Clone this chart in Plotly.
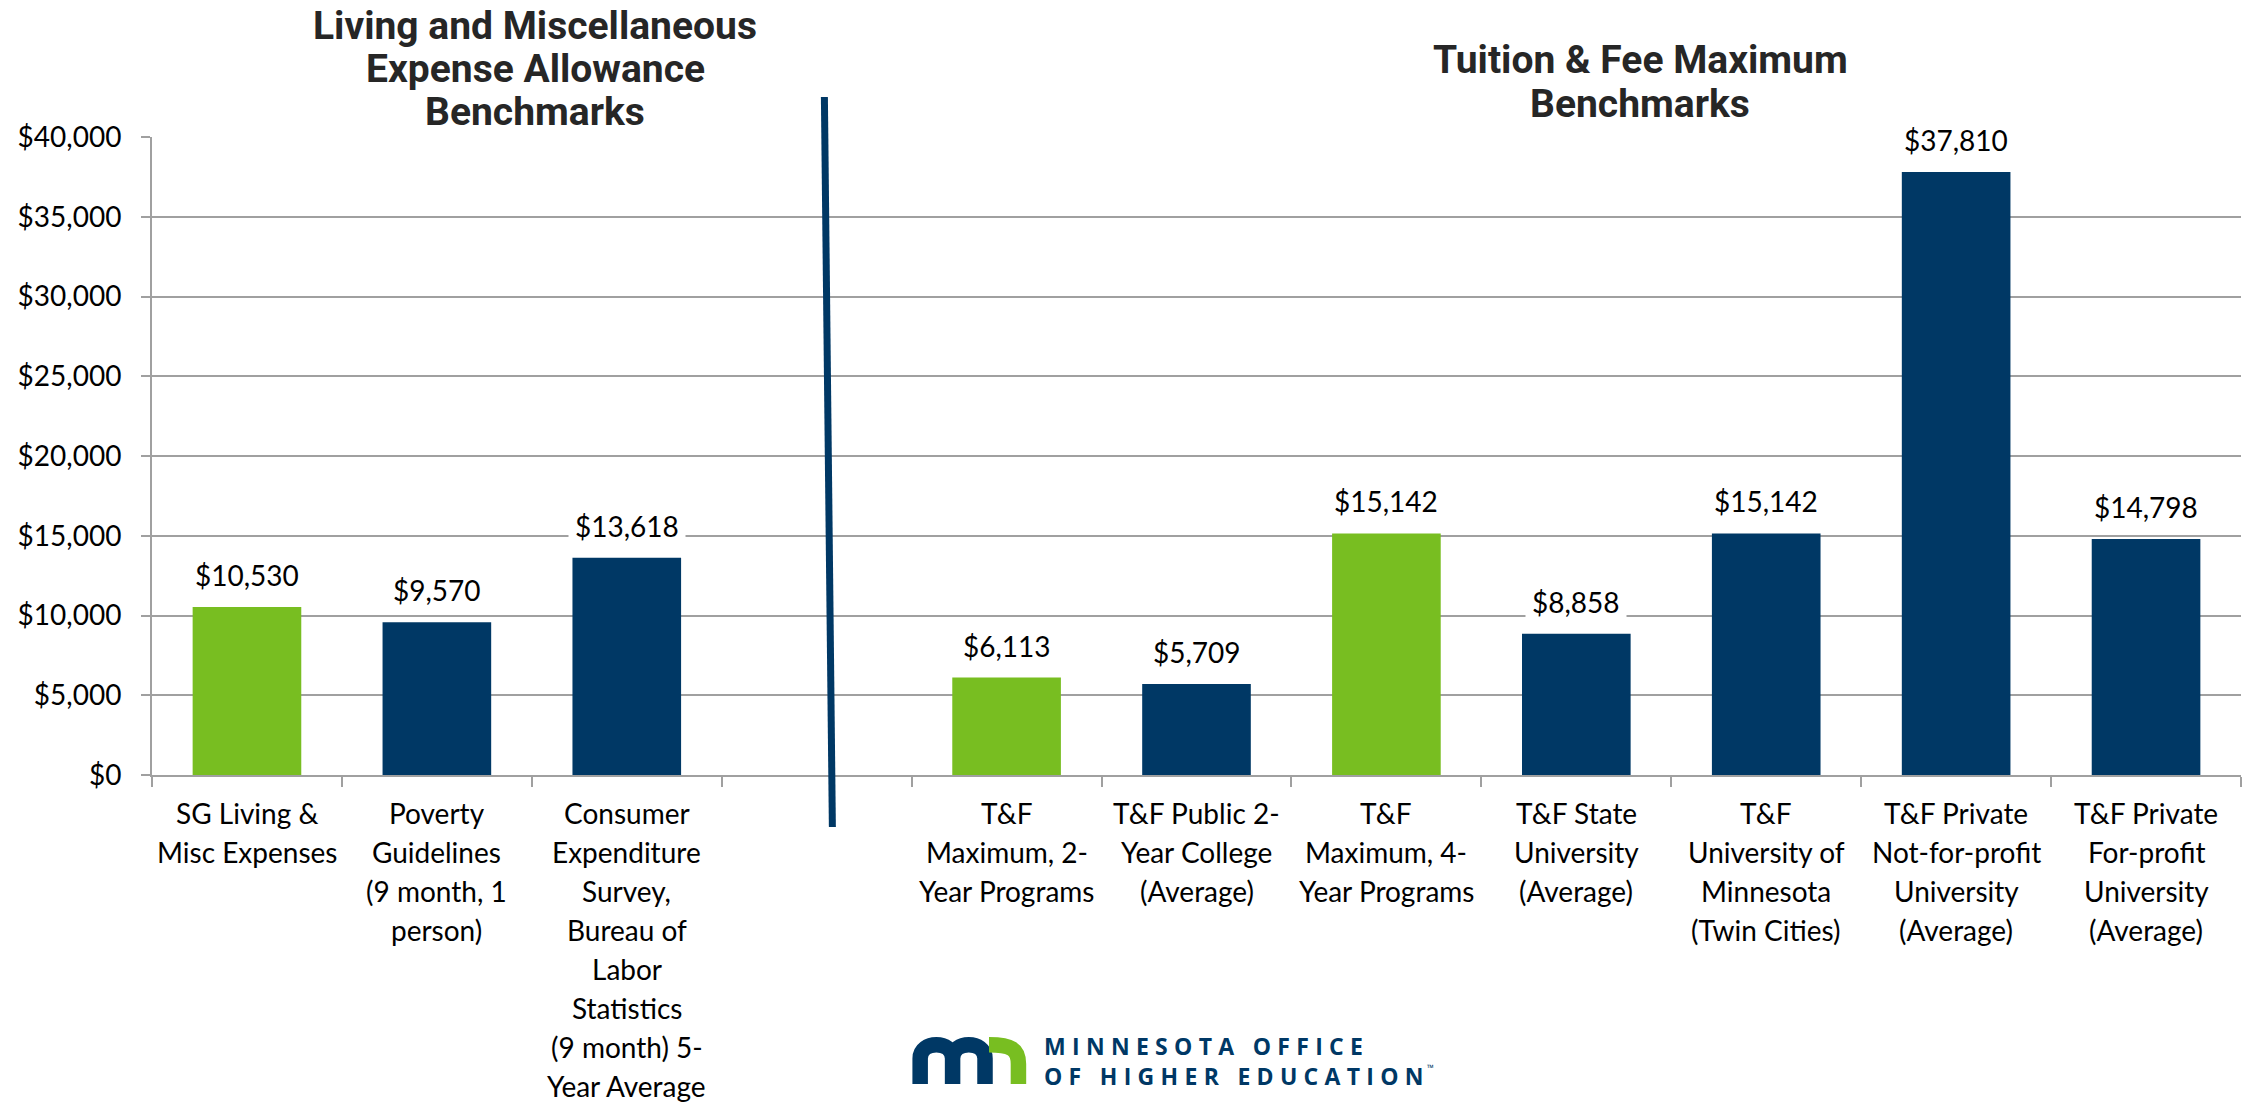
import plotly.graph_objects as go

# ---------------- data ----------------
categories = [
    "SG Living & Misc Expenses",
    "Poverty Guidelines (9 month, 1 person)",
    "Consumer Expenditure Survey, Bureau of Labor Statistics (9 month) 5-Year Average",
    " ",
    "T&F Maximum, 2-Year Programs",
    "T&F Public 2-Year College (Average)",
    "T&F Maximum, 4-Year Programs",
    "T&F State University (Average)",
    "T&F University of Minnesota (Twin Cities)",
    "T&F Private Not-for-profit University (Average)",
    "T&F Private For-profit University (Average)",
]
label_lines = [
    ["SG Living &", "Misc Expenses"],
    ["Poverty", "Guidelines", "(9 month, 1", "person)"],
    ["Consumer", "Expenditure", "Survey,", "Bureau of", "Labor", "Statistics", "(9 month) 5-", "Year Average"],
    [],
    ["T&F", "Maximum, 2-", "Year Programs"],
    ["T&F Public 2-", "Year College", "(Average)"],
    ["T&F", "Maximum, 4-", "Year Programs"],
    ["T&F State", "University", "(Average)"],
    ["T&F", "University of", "Minnesota", "(Twin Cities)"],
    ["T&F Private", "Not-for-profit", "University", "(Average)"],
    ["T&F Private", "For-profit", "University", "(Average)"],
]
values = [10530, 9570, 13618, None, 6113, 5709, 15142, 8858, 15142, 37810, 14798]
highlight = [True, False, False, False, True, False, True, False, False, False, False]
y_ticks = [0, 5000, 10000, 15000, 20000, 25000, 30000, 35000, 40000]
y_tick_labels = ["$0", "$5,000", "$10,000", "$15,000", "$20,000", "$25,000", "$30,000", "$35,000", "$40,000"]
left_title = ["Living and Miscellaneous", "Expense Allowance", "Benchmarks"]
right_title = ["Tuition & Fee Maximum", "Benchmarks"]
logo_lines = ["MINNESOTA OFFICE", "OF HIGHER EDUCATION"]

# ---------------- style ----------------
GREEN = "#78BE21"
NAVY = "#003865"
GRID = "#A0A0A0"
TXT = "Lato, 'Noto Sans', sans-serif"
TITLE_FONT = "Roboto, 'Liberation Sans', Arial, sans-serif"

# page body has an 8px default margin: figure is placed at (8, 8) of the window
OFF = 8
W, H = 2251 - OFF, 1104 - OFF
L, R, T = 147 - OFF, 10, 137 - OFF
B = H - (775 - OFF)
PW, PH = W - L - R, H - T - B


def px(x):
    """window x pixel -> paper fraction"""
    return (x - OFF - L) / PW


def py(y):
    """window y pixel -> paper fraction"""
    return (H - B - (y - OFF)) / PH


colors = [GREEN if h else NAVY for h in highlight]

fig = go.Figure()
fig.add_trace(go.Bar(
    x=categories, y=values, marker=dict(color=colors, line=dict(width=0)),
    hoverinfo="skip", showlegend=False,
))

annotations = []
# data labels
for c, v in zip(categories, values):
    if v is None:
        continue
    annotations.append(dict(
        x=c, y=v, xref="x", yref="y", text=f"${v:,}", showarrow=False,
        yanchor="bottom", yshift=8, bgcolor="white", borderpad=6,
        font=dict(family=TXT, size=28, color="#000000"),
    ))
# category labels (one annotation per wrapped line)
for c, lines in zip(categories, label_lines):
    for j, line in enumerate(lines):
        annotations.append(dict(
            x=c, xref="x", y=py(813 + j * 39), yref="paper", text=line,
            showarrow=False, yanchor="middle", xanchor="center",
            font=dict(family=TXT, size=28, color="#000000"),
        ))
# titles
for j, line in enumerate(left_title):
    annotations.append(dict(
        x=px(531), y=py(26 + j * 43), xref="paper", yref="paper", text=f"<b>{line}</b>",
        showarrow=False, xanchor="center", yanchor="middle",
        font=dict(family=TITLE_FONT, size=39, color="#262626"),
    ))
for j, line in enumerate(right_title):
    annotations.append(dict(
        x=px(1639), y=py(60 + j * 44), xref="paper", yref="paper", text=f"<b>{line}</b>",
        showarrow=False, xanchor="center", yanchor="middle",
        font=dict(family=TITLE_FONT, size=39, color="#262626"),
    ))
# logo text (two lines in one block)
logo_text = "<br>".join(f"<span style='letter-spacing:6.3px'>{ln}</span>" for ln in logo_lines)
annotations.append(dict(
    x=px(1039), y=py(1061), xref="paper", yref="paper",
    text=f"<b>{logo_text}</b>", align="left",
    showarrow=False, xanchor="left", yanchor="middle",
    font=dict(family="'Open Sans', sans-serif", size=23, color=NAVY),
))
annotations.append(dict(
    x=px(1423), y=py(1067), xref="paper", yref="paper", text="™",
    showarrow=False, xanchor="left", yanchor="middle",
    font=dict(family="'Open Sans', sans-serif", size=9, color=NAVY),
))


def path(points_cmds):
    out = []
    for cmd, pts in points_cmds:
        coords = " ".join(f"{px(x):.5f},{py(y):.5f}" for x, y in pts)
        out.append(f"{cmd}{coords}")
    return " ".join(out)


# logo "m" (navy) and arch (green)
top_c = 1044.75
yc = 1058.5
ry = yc - top_c
cy = yc - 4.0 / 3.0 * ry
legs = [917, 949.5, 982]
m_path = path([
    ("M", [(legs[0], 1084)]), ("L", [(legs[0], yc)]),
    ("C", [(legs[0], cy), (legs[1], cy), (legs[1], yc)]),
    ("L", [(legs[1], 1084)]),
    ("M", [(legs[1], yc)]),
    ("C", [(legs[1], cy), (legs[2], cy), (legs[2], yc)]),
    ("L", [(legs[2], 1084)]),
])
g_path = path([
    ("M", [(986, top_c)]),
    ("C", [(1008, top_c), (1015.5, 1049), (1015.5, 1064)]),
    ("L", [(1015.5, 1084)]),
])

shapes = [
    dict(type="line", xref="paper", yref="paper", x0=px(821), y0=py(97), x1=px(829), y1=py(827),
         line=dict(color=NAVY, width=7)),
    dict(type="path", xref="paper", yref="paper", path=m_path, line=dict(color=NAVY, width=15.5)),
    dict(type="path", xref="paper", yref="paper", path=g_path, line=dict(color=GREEN, width=15.5)),
]

fig.update_layout(
    width=W, height=H, margin=dict(l=L, r=R, t=T, b=B),
    paper_bgcolor="white", plot_bgcolor="white",
    bargap=0.428, annotations=annotations, shapes=shapes,
    font=dict(family=TXT, size=28, color="#000000"),
    xaxis=dict(
        type="category", categoryorder="array", categoryarray=categories,
        range=[-0.5, 10.5], showticklabels=False, showline=True, linecolor=GRID, linewidth=2,
        ticks="outside", tickson="boundaries", ticklen=10, tickcolor=GRID, tickwidth=2,
        showgrid=False, fixedrange=True,
    ),
    yaxis=dict(
        range=[0, 40000], tickmode="array", tickvals=y_ticks, ticktext=y_tick_labels,
        showline=True, linecolor=GRID, linewidth=2, showgrid=True, gridcolor=GRID, gridwidth=2,
        ticks="outside", ticklen=9, tickcolor=GRID, tickwidth=2, zeroline=False,
        tickfont=dict(family=TXT, size=28, color="#000000"), ticklabelstandoff=14,
        fixedrange=True,
    ),
)

fig.write_html("out.html")
